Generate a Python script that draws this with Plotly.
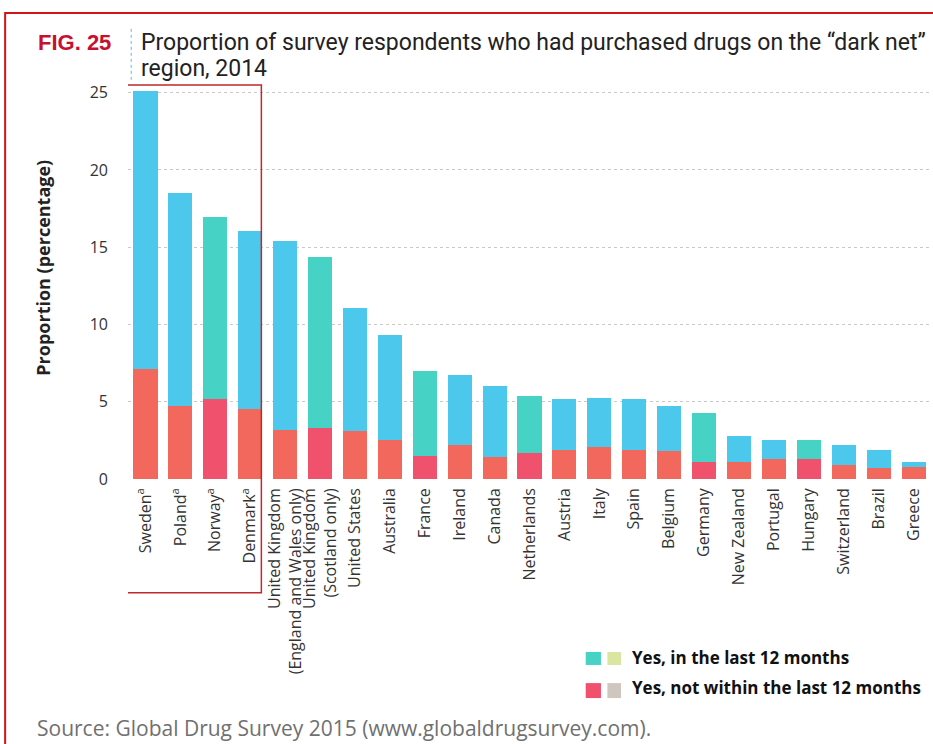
import plotly.graph_objects as go

countries = ["Sweden<sup>a</sup>", "Poland<sup>a</sup>", "Norway<sup>a</sup>", "Denmark<sup>a</sup>",
             "United Kingdom<br>(England and Wales only)", "United Kingdom<br>(Scotland only)",
             "United States", "Australia", "France", "Ireland", "Canada", "Netherlands",
             "Austria", "Italy", "Spain", "Belgium", "Germany", "New Zealand", "Portugal",
             "Hungary", "Switzerland", "Brazil", "Greece"]
total = [25.1, 18.5, 16.95, 16.05, 15.4, 14.35, 11.05, 9.35, 7.0, 6.75, 6.0, 5.4,
         5.15, 5.25, 5.2, 4.7, 4.3, 2.8, 2.55, 2.55, 2.2, 1.9, 1.1]
not_last12 = [7.1, 4.7, 5.2, 4.5, 3.2, 3.3, 3.1, 2.5, 1.5, 2.2, 1.45, 1.7,
              1.85, 2.1, 1.9, 1.8, 1.1, 1.1, 1.3, 1.3, 0.9, 0.7, 0.75]
in_last12 = [round(t - n, 2) for t, n in zip(total, not_last12)]

series_names = ["Yes, in the last 12 months", "Yes, not within the last 12 months"]
y_ticks = [0, 5, 10, 15, 20, 25]

CYAN, TEAL = "#4CC8EC", "#46D3C6"
RED, PINK = "#F2685C", "#F0526E"
teal_set = {2, 5, 8, 11, 16, 19}
top_colors = [TEAL if i in teal_set else CYAN for i in range(len(countries))]
bot_colors = [PINK if i in teal_set else RED for i in range(len(countries))]

fig = go.Figure()
fig.add_trace(go.Bar(x=countries, y=not_last12, name=series_names[1],
                     marker=dict(color=bot_colors, line=dict(width=0))))
fig.add_trace(go.Bar(x=countries, y=in_last12, name=series_names[0],
                     marker=dict(color=top_colors, line=dict(width=0))))

fig.update_layout(
    barmode="stack", bargap=0.31,
    width=933, height=744,
    margin=dict(l=128, r=2, t=85, b=265),
    paper_bgcolor="white", plot_bgcolor="white",
    showlegend=False,
    font=dict(family="Open Sans, sans-serif", color="#333333"),
)
fig.update_xaxes(type="category", range=[-0.5, 22.5], showline=False, ticks="",
                 tickangle=-90, tickfont=dict(size=16, color="#333333"),
                 ticklabelstandoff=5, showgrid=False)
fig.update_yaxes(range=[0, 25.5], tickvals=y_ticks,
                 tickfont=dict(size=16, color="#333333"), ticklabelstandoff=19,
                 showgrid=True, gridcolor="#C9C9C9", griddash="dot", gridwidth=1,
                 zeroline=False, showline=False)

TITLE_FONT = "Roboto, Liberation Sans, sans-serif"
ann = [
    dict(text="<b>FIG. 25</b>", x=-0.114, y=1.109, xanchor="left", yanchor="middle",
         font=dict(size=22, color="#C8102E", family="Liberation Sans, Arial, sans-serif")),
    dict(text="Proportion of survey respondents who had purchased drugs on the \u201cdark net\u201d",
         x=0.014, y=1.109, xanchor="left", yanchor="middle",
         font=dict(size=23, color="#222222", family=TITLE_FONT)),
    dict(text="region, 2014",
         x=0.014, y=1.043, xanchor="left", yanchor="middle",
         font=dict(size=23, color="#222222", family=TITLE_FONT)),
    dict(text="<b>Proportion (percentage)</b>", x=-0.106, y=0.536, textangle=-90,
         xanchor="center", yanchor="middle", font=dict(size=18, color="#222222")),
    dict(text="Source: Global Drug Survey 2015 (www.globaldrugsurvey.com).",
         x=-0.116, y=-0.632, xanchor="left", yanchor="middle",
         font=dict(size=21, color="#707070")),
    dict(text="<b>" + series_names[0] + "</b>", x=0.625, y=-0.454, xanchor="left", yanchor="middle",
         font=dict(size=17, color="#111111")),
    dict(text="<b>" + series_names[1] + "</b>", x=0.625, y=-0.530, xanchor="left", yanchor="middle",
         font=dict(size=17, color="#111111")),
]
for a in ann:
    a.update(xref="paper", yref="paper", showarrow=False)
fig.update_layout(annotations=ann)

shapes = [
    # outer red frame
    dict(type="rect", xref="paper", yref="paper", x0=-0.153, x1=1.05, y0=-0.9, y1=1.183,
         line=dict(color="#D0141A", width=2)),
    # highlight box around first four countries
    dict(type="rect", xref="x", yref="paper", x0=-0.55, x1=3.32, y0=-0.289, y1=1.0,
         line=dict(color="#C0282A", width=1.5)),
    # dotted separator next to FIG. 25
    dict(type="line", xref="paper", yref="paper", x0=0.004, x1=0.004, y0=1.013, y1=1.145,
         line=dict(color="#6BB8D8", width=1, dash="dot")),
    # legend swatches
    dict(type="rect", xref="paper", yref="paper", x0=0.570, x1=0.589, y0=-0.472, y1=-0.439,
         fillcolor=TEAL, line=dict(width=0)),
    dict(type="rect", xref="paper", yref="paper", x0=0.597, x1=0.614, y0=-0.472, y1=-0.439,
         fillcolor="#D8E6A0", line=dict(width=0)),
    dict(type="rect", xref="paper", yref="paper", x0=0.570, x1=0.589, y0=-0.556, y1=-0.518,
         fillcolor=PINK, line=dict(width=0)),
    dict(type="rect", xref="paper", yref="paper", x0=0.597, x1=0.614, y0=-0.556, y1=-0.518,
         fillcolor="#CFC6C0", line=dict(width=0)),
]
fig.update_layout(shapes=shapes)

fig.write_html("out.html", config={"displayModeBar": False},
               post_script="document.body.style.margin='0px';document.body.style.overflow='hidden';")
